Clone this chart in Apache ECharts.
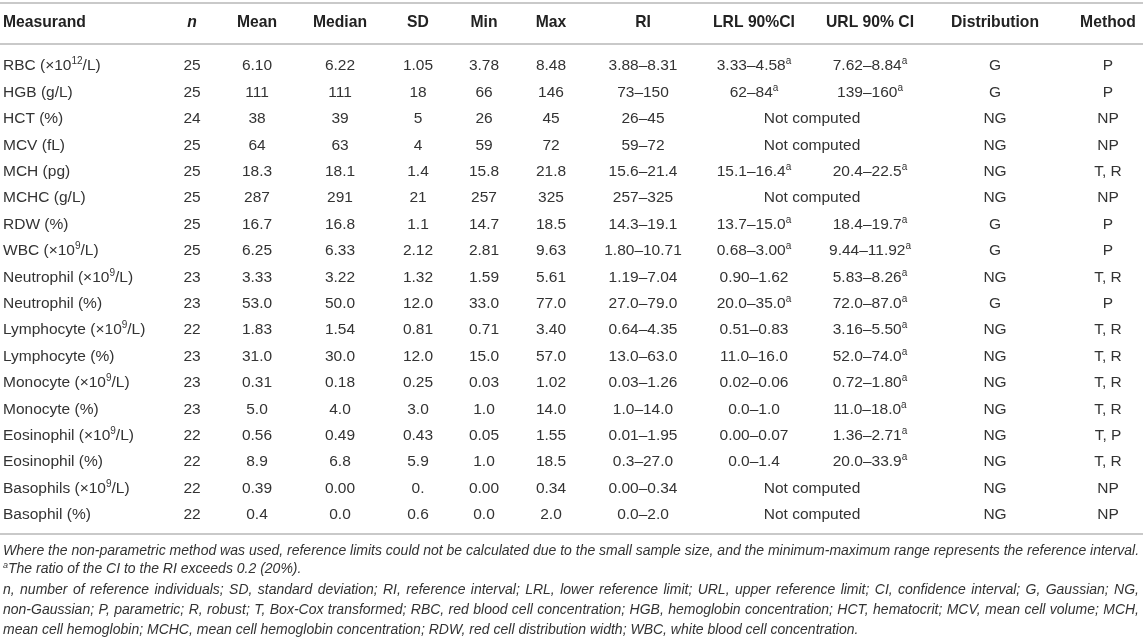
<!DOCTYPE html>
<html>
<head>
<meta charset="utf-8">
<script src="https://cdn.jsdelivr.net/npm/echarts@6/dist/echarts.min.js"></script>
<style>
    html, body { margin: 0; padding: 0; background: #fff; }
    #table { width: 1143px; height: 644px; }
</style>
</head>
<body>
<div id="table"></div>
<script>
// "^" toggles superscript inside a string
const headers = ["Measurand", "n", "Mean", "Median", "SD", "Min", "Max", "RI", "LRL 90%CI", "URL 90% CI", "Distribution", "Method"];
const measurands = [
    "RBC (×10^12^/L)", "HGB (g/L)", "HCT (%)", "MCV (fL)", "MCH (pg)", "MCHC (g/L)", "RDW (%)",
    "WBC (×10^9^/L)", "Neutrophil (×10^9^/L)", "Neutrophil (%)", "Lymphocyte (×10^9^/L)", "Lymphocyte (%)",
    "Monocyte (×10^9^/L)", "Monocyte (%)", "Eosinophil (×10^9^/L)", "Eosinophil (%)",
    "Basophils (×10^9^/L)", "Basophil (%)"
];
const nValues = ["25", "25", "24", "25", "25", "25", "25", "25", "23", "23", "22", "23", "23", "23", "22", "22", "22", "22"];
const means = ["6.10", "111", "38", "64", "18.3", "287", "16.7", "6.25", "3.33", "53.0", "1.83", "31.0", "0.31", "5.0", "0.56", "8.9", "0.39", "0.4"];
const medians = ["6.22", "111", "39", "63", "18.1", "291", "16.8", "6.33", "3.22", "50.0", "1.54", "30.0", "0.18", "4.0", "0.49", "6.8", "0.00", "0.0"];
const sds = ["1.05", "18", "5", "4", "1.4", "21", "1.1", "2.12", "1.32", "12.0", "0.81", "12.0", "0.25", "3.0", "0.43", "5.9", "0.", "0.6"];
const mins = ["3.78", "66", "26", "59", "15.8", "257", "14.7", "2.81", "1.59", "33.0", "0.71", "15.0", "0.03", "1.0", "0.05", "1.0", "0.00", "0.0"];
const maxs = ["8.48", "146", "45", "72", "21.8", "325", "18.5", "9.63", "5.61", "77.0", "3.40", "57.0", "1.02", "14.0", "1.55", "18.5", "0.34", "2.0"];
const ris = ["3.88–8.31", "73–150", "26–45", "59–72", "15.6–21.4", "257–325", "14.3–19.1", "1.80–10.71", "1.19–7.04", "27.0–79.0",
    "0.64–4.35", "13.0–63.0", "0.03–1.26", "1.0–14.0", "0.01–1.95", "0.3–27.0", "0.00–0.34", "0.0–2.0"];
// null in both CI columns = "Not computed"
const lrlCI = ["3.33–4.58^a", "62–84^a", null, null, "15.1–16.4^a", null, "13.7–15.0^a", "0.68–3.00^a", "0.90–1.62", "20.0–35.0^a",
    "0.51–0.83", "11.0–16.0", "0.02–0.06", "0.0–1.0", "0.00–0.07", "0.0–1.4", null, null];
const urlCI = ["7.62–8.84^a", "139–160^a", null, null, "20.4–22.5^a", null, "18.4–19.7^a", "9.44–11.92^a", "5.83–8.26^a", "72.0–87.0^a",
    "3.16–5.50^a", "52.0–74.0^a", "0.72–1.80^a", "11.0–18.0^a", "1.36–2.71^a", "20.0–33.9^a", null, null];
const distributions = ["G", "G", "NG", "NG", "NG", "NG", "G", "G", "NG", "G", "NG", "NG", "NG", "NG", "NG", "NG", "NG", "NG"];
const methods = ["P", "P", "NP", "NP", "T, R", "NP", "P", "P", "T, R", "P", "T, R", "T, R", "T, R", "T, R", "T, P", "T, R", "NP", "NP"];
const notComputed = "Not computed";
const footnotes = [
    "Where the non-parametric method was used, reference limits could not be calculated due to the small sample size, and the minimum-maximum range represents the reference interval.",
    "^a^The ratio of the CI to the RI exceeds 0.2 (20%).",
    "n, number of reference individuals; SD, standard deviation; RI, reference interval; LRL, lower reference limit; URL, upper reference limit; CI, confidence interval; G, Gaussian; NG,",
    "non-Gaussian; P, parametric; R, robust; T, Box-Cox transformed; RBC, red blood cell concentration; HGB, hemoglobin concentration; HCT, hematocrit; MCV, mean cell volume; MCH,",
    "mean cell hemoglobin; MCHC, mean cell hemoglobin concentration; RDW, red cell distribution width; WBC, white blood cell concentration."
];
// which footnote lines are justified (the text block is justified, last lines are not)
const footJustified = [false, false, true, true, false];

const columns = [measurands, nValues, means, medians, sds, mins, maxs, ris, lrlCI, urlCI, distributions, methods];

// layout (pixels)
const colX = [3, 192, 257, 340, 418, 484, 551, 643, 754, 870, 995, 1108];
const FONT = "Liberation Sans, Arial, Helvetica, sans-serif";
const ruleColor = "#c9c9c9";
const bodySize = 15.5;
const headSize = 15.7;
const footSize = 14;
const footRight = 1139;

function toRich(str) {
    return str.split("^").map((p, i) => (p === "" ? "" : (i % 2 ? `{sup|${p}}` : `{base|${p}}`))).join("");
}

function richStyles(size, weight, italic, color) {
    return {
        base: { fontSize: size, fontFamily: FONT, fontWeight: weight, fontStyle: italic ? "italic" : "normal",
                fill: color, lineHeight: Math.round(size + 3), verticalAlign: "middle" },
        sup: { fontSize: Math.round(size * 0.66), fontFamily: FONT, fontWeight: weight, fontStyle: italic ? "italic" : "normal",
               fill: color, lineHeight: Math.round(size * 0.55), verticalAlign: "top" },
    };
}

const cellRich = richStyles(bodySize, "normal", false, "#333");

const chartDom = document.getElementById("table");
const chart = echarts.init(chartDom, null, { renderer: "canvas" });

chart.setOption({
    animation: false,
    backgroundColor: "#fff",
    grid: { left: 0, right: 0, top: 53, height: 475 },
    xAxis: { type: "value", min: 0, max: 1143, show: false },
    yAxis: { type: "category", data: measurands, inverse: true, show: false },
    series: [
        {
            type: "custom",
            silent: true,
            data: measurands.map((m, i) => [i]),
            encode: { y: 0 },
            renderItem: (params, api) => {
                const r = api.value(0);
                const children = [];
                columns.forEach((col, c) => {
                    let text = col[r];
                    let x = colX[c];
                    if (text === null) {
                        if (c !== 8) return;
                        text = notComputed;
                        x = (colX[8] + colX[9]) / 2;
                    }
                    const pt = api.coord([x, r]);
                    children.push({
                        type: "text",
                        x: pt[0],
                        y: pt[1],
                        style: {
                            text: toRich(text),
                            rich: cellRich,
                            align: c === 0 ? "left" : "center",
                            verticalAlign: "middle",
                        },
                    });
                });
                return { type: "group", children };
            },
        },
    ],
});

// header, rules and footnotes
const graphics = [];
[3, 44, 534].forEach(y => {
    graphics.push({
        type: "line", silent: true,
        shape: { x1: 0, y1: y, x2: 1143, y2: y },
        style: { stroke: ruleColor, lineWidth: 2 },
    });
});
headers.forEach((h, c) => {
    const px = chart.convertToPixel({ gridIndex: 0 }, [colX[c], 0])[0];
    graphics.push({
        type: "text", silent: true,
        x: px, y: 23,
        style: {
            text: toRich(h),
            rich: richStyles(headSize, "bold", c === 1, "#222"),
            align: c === 0 ? "left" : "center",
            verticalAlign: "middle",
        },
    });
});

const measureCtx = document.createElement("canvas").getContext("2d");
measureCtx.font = `italic ${footSize}px ${FONT}`;
const footRich = richStyles(footSize, "normal", true, "#333");
const footY = [551, 569, 590, 610, 630];
footnotes.forEach((f, i) => {
    if (!footJustified[i]) {
        graphics.push({
            type: "text", silent: true,
            x: 3, y: footY[i],
            style: { text: toRich(f), rich: footRich, align: "left", verticalAlign: "middle" },
        });
        return;
    }
    const words = f.split(" ");
    const widths = words.map(w => measureCtx.measureText(w).width);
    const total = widths.reduce((a, b) => a + b, 0);
    const gap = (footRight - 3 - total) / (words.length - 1);
    let x = 3;
    words.forEach((w, k) => {
        graphics.push({
            type: "text", silent: true,
            x: x, y: footY[i],
            style: { text: toRich(w), rich: footRich, align: "left", verticalAlign: "middle" },
        });
        x += widths[k] + gap;
    });
});
chart.setOption({ graphic: graphics });
</script>
</body>
</html>
